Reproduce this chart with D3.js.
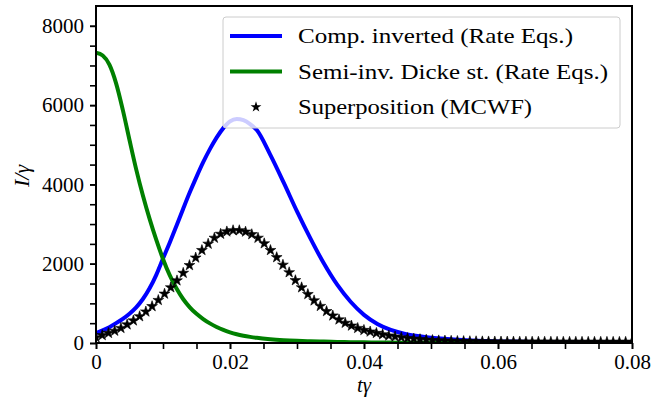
<!DOCTYPE html>
<html><head><meta charset="utf-8">
<script src="https://cdn.jsdelivr.net/npm/d3@7"></script>
<style>body{margin:0;background:#fff}svg{display:block}text{font-family:"Liberation Serif","DejaVu Serif",serif;fill:#000}</style>
</head><body>
<svg id="c" width="652" height="403"></svg>
<script>
// Curve sample times and values
const curveT = [0,0.001,0.002,0.003,0.004,0.005,0.006,0.007,0.008,0.009,0.010,0.011,0.012,0.013,0.014,0.015,0.016,0.017,0.018,0.019,0.020,0.021,0.022,0.023,0.024,0.026,0.028,0.030,0.032,0.034,0.036,0.038,0.040,0.042,0.044,0.046,0.048,0.050,0.052,0.054,0.056,0.058,0.060,0.065,0.070,0.075,0.080];
const compInverted = [250,320,400,500,610,740,900,1110,1380,1720,2130,2530,2950,3380,3800,4190,4560,4890,5180,5420,5590,5650,5620,5520,5370,4750,4050,3320,2640,2010,1470,1040,710,480,330,235,175,135,105,82,64,50,40,25,15,8,5];
const semiInvDicke = [7320,7250,7020,6550,5880,5120,4380,3720,3130,2600,2120,1710,1380,1110,900,735,605,495,405,330,270,222,185,155,130,95,72,56,44,35,28,22,17,13,10,8,6,5,4,3,3,2,2,1,1,0,0];
// Superposition (MCWF) markers: sample step and values
const starStep = 0.00093;
const superposition = [140,195,250,305,375,465,565,670,790,925,1080,1240,1400,1575,1765,1960,2150,2340,2500,2650,2750,2810,2840,2840,2805,2740,2650,2510,2340,2160,1970,1780,1580,1400,1230,1070,930,800,690,590,505,435,375,325,285,250,215,185,160,140,120,105,92,80,70,62,56,51,47,44,41,39,37,35,34,33,32,31,30,30,29,29,28,28,28,27,27,27,26,26,26,26,25,25,25,25,25];
const xTicks = [0,0.02,0.04,0.06,0.08];
const xTickLabels = ["0","0.02","0.04","0.06","0.08"];
const yTicks = [0,2000,4000,6000,8000];
const legendLabels = ["Comp. inverted (Rate Eqs.)","Semi-inv. Dicke st. (Rate Eqs.)","Superposition (MCWF)"];
const legendWidths = [275,310,234];

const L=96,R=632,T=6,B=343;
const svg=d3.select("#c");
const x=d3.scaleLinear().domain([0,0.08]).range([L,R]);
const y=d3.scaleLinear().domain([0,8500]).range([B,T]);

svg.append("defs").append("clipPath").attr("id","clip").append("rect")
  .attr("x",L).attr("y",T).attr("width",R-L).attr("height",B-T);
const g=svg.append("g").attr("clip-path","url(#clip)");

const line=d3.line().x(d=>x(d[0])).y(d=>y(d[1])).curve(d3.curveMonotoneX);
g.append("path").datum(curveT.map((t,i)=>[t,compInverted[i]])).attr("d",line)
  .attr("fill","none").attr("stroke","#0000ff").attr("stroke-width",4);
g.append("path").datum(curveT.map((t,i)=>[t,semiInvDicke[i]])).attr("d",line)
  .attr("fill","none").attr("stroke","#008000").attr("stroke-width",4);
const star=d3.symbol().type(d3.symbolStar).size(36);
g.selectAll("path.s").data(superposition).enter().append("path").attr("class","s")
  .attr("d",star).attr("transform",(d,i)=>`translate(${x(i*starStep)},${y(d)})`)
  .attr("fill","#000").attr("stroke","#000").attr("stroke-width",0.6);

// axes
const xAxis=d3.axisBottom(x).tickValues(xTicks).tickFormat((d,i)=>xTickLabels[i]).tickSize(6).tickPadding(5);
const xMinor=d3.axisBottom(x).tickValues(d3.range(0,0.0801,0.005)).tickFormat("").tickSize(6);
const yAxis=d3.axisLeft(y).tickValues(yTicks).tickFormat(d3.format("d")).tickSize(6).tickPadding(6);
const yMinor=d3.axisLeft(y).tickValues(d3.range(0,8001,500)).tickFormat("").tickSize(6);
function style(sel){sel.select(".domain").remove();sel.selectAll("line").attr("stroke","#000").attr("stroke-width",1.6);sel.selectAll("text").attr("font-size",21).attr("font-family","Liberation Serif");}
svg.append("g").attr("transform",`translate(0,${B})`).call(xMinor).call(style);
svg.append("g").attr("transform",`translate(0,${B})`).call(xAxis).call(style);
svg.append("g").attr("transform",`translate(${L},0)`).call(yMinor).call(style);
svg.append("g").attr("transform",`translate(${L},0)`).call(yAxis).call(style);
svg.append("rect").attr("x",L).attr("y",T).attr("width",R-L).attr("height",B-T)
  .attr("fill","none").attr("stroke","#000").attr("stroke-width",2);

// labels
svg.append("text").attr("x",364).attr("y",392).attr("text-anchor","middle").attr("font-size",21)
  .attr("font-style","italic").text("tγ");
svg.append("text").attr("transform","translate(29,176) rotate(-90)").attr("text-anchor","middle").attr("font-size",22)
  .attr("font-style","italic").text("I/γ");

// legend
const lg=svg.append("g");
lg.append("rect").attr("x",223).attr("y",17).attr("width",397).attr("height",111).attr("rx",3)
  .attr("fill","#fff").attr("fill-opacity",0.8).attr("stroke","#cccccc").attr("stroke-width",1);
const rows=[36,71.5,107];
lg.append("line").attr("x1",230).attr("x2",282).attr("y1",rows[0]).attr("y2",rows[0]).attr("stroke","#0000ff").attr("stroke-width",4);
lg.append("line").attr("x1",230).attr("x2",282).attr("y1",rows[1]).attr("y2",rows[1]).attr("stroke","#008000").attr("stroke-width",4);
lg.append("path").attr("d",star).attr("transform",`translate(256,${rows[2]})`).attr("fill","#000");
legendLabels.forEach((s,i)=>lg.append("text").attr("x",298).attr("y",rows[i]+7).attr("font-size",21)
  .attr("textLength",legendWidths[i]).attr("lengthAdjust","spacingAndGlyphs").text(s));
</script>
</body></html>
